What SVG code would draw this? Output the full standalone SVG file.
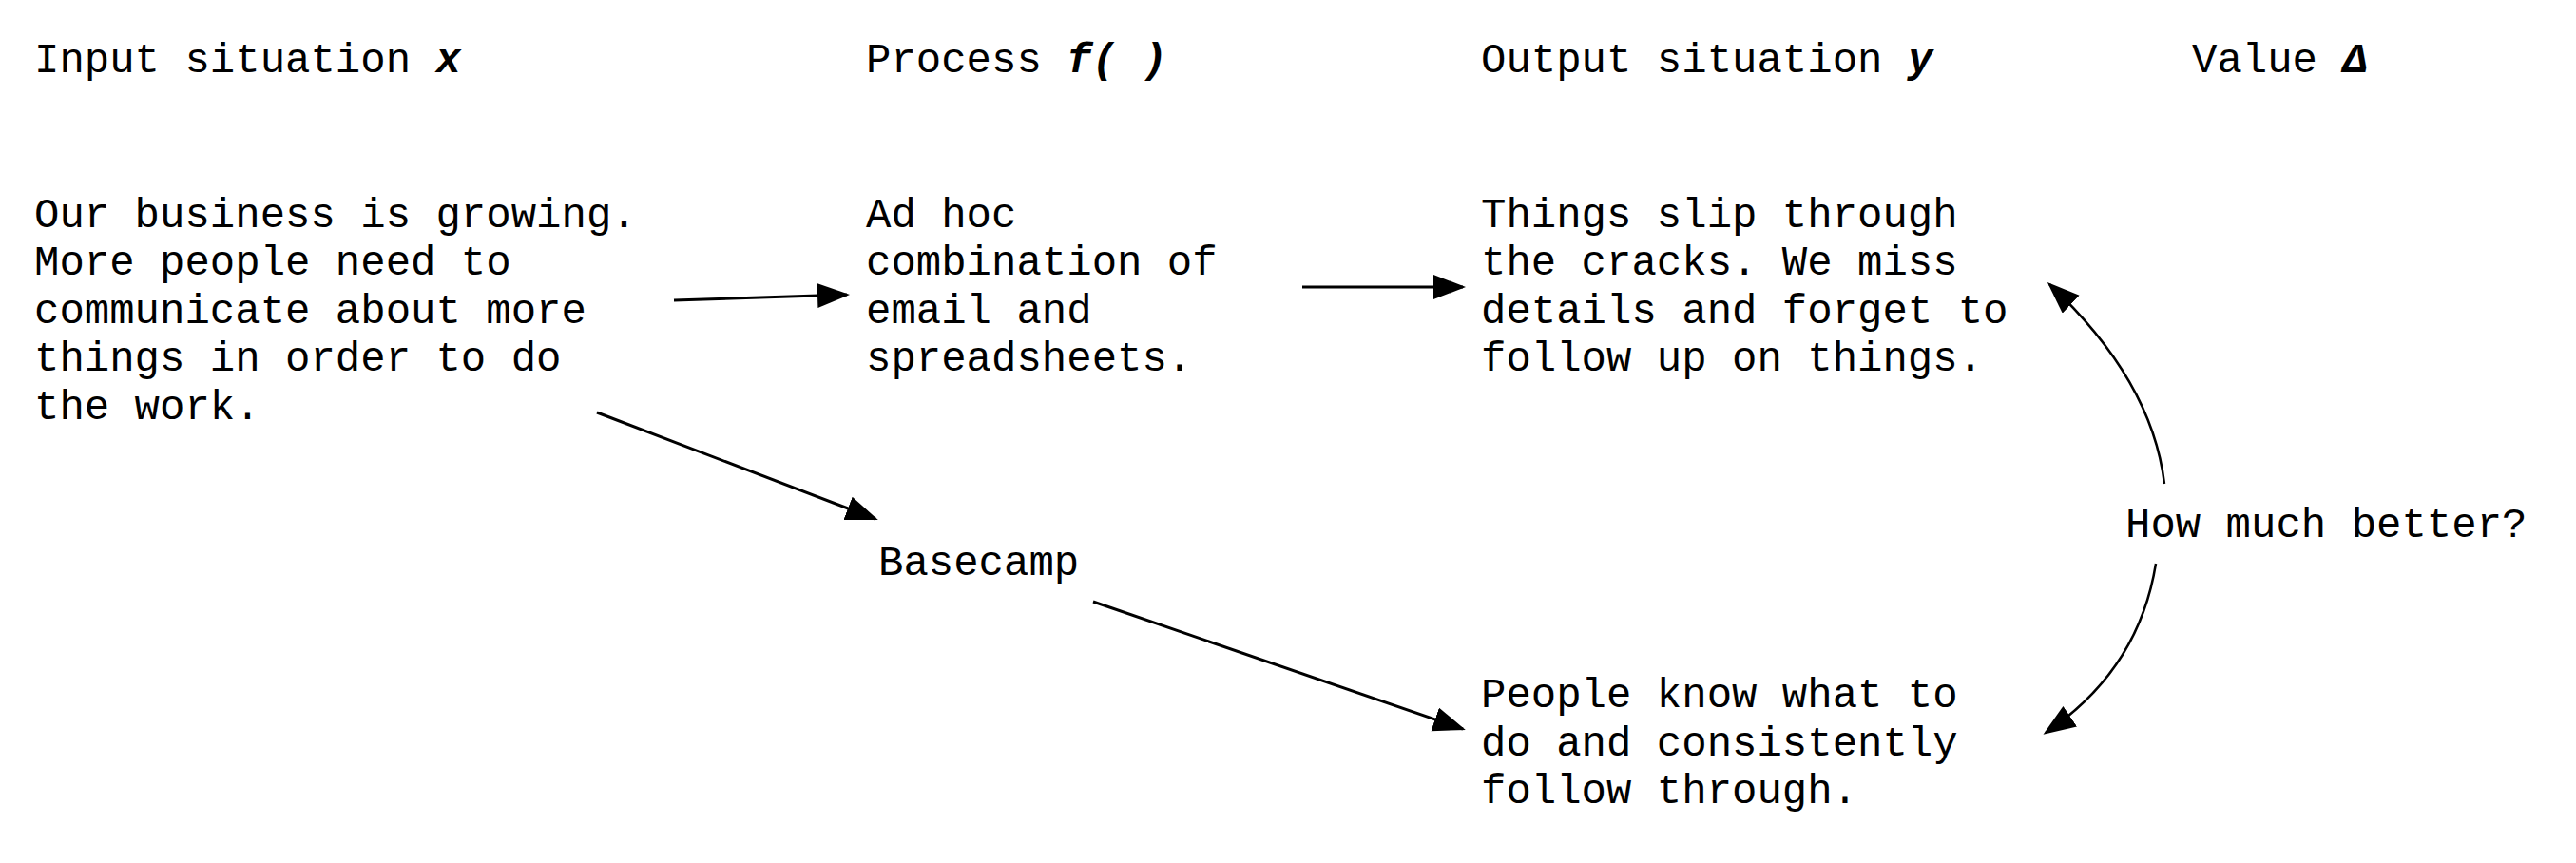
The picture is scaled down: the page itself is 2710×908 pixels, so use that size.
<svg xmlns="http://www.w3.org/2000/svg" width="2710" height="908" viewBox="0 0 2710 908">
<style>
text { font-family: "Liberation Mono", "Courier New", monospace; font-size: 44px; fill: #000; }
.em { font-weight: bold; font-style: italic; }
.conn { fill: none; stroke: #000; stroke-width: 3; }
.curve { fill: none; stroke: #000; stroke-width: 2.5; }
</style>
<defs>
<marker id="ah" markerUnits="userSpaceOnUse" markerWidth="36" markerHeight="28" refX="31" refY="13" orient="auto">
<path d="M0,0 L34,13 L0,26 Z" fill="#000"/>
</marker>
</defs>
<rect width="2710" height="908" fill="#fff"/>
<g id="headers">
<text x="36" y="76">Input situation <tspan class="em">x</tspan></text>
<text x="911" y="76">Process <tspan class="em">f( )</tspan></text>
<text x="1558" y="76">Output situation <tspan class="em">y</tspan></text>
<text x="2306" y="76">Value <tspan class="em">Δ</tspan></text>
</g>
<g id="node-input">
<text x="36" y="239">Our business is growing.</text>
<text x="36" y="289">More people need to</text>
<text x="36" y="340">communicate about more</text>
<text x="36" y="390">things in order to do</text>
<text x="36" y="441">the work.</text>
</g>
<g id="node-process">
<text x="911" y="239">Ad hoc</text>
<text x="911" y="289">combination of</text>
<text x="911" y="340">email and</text>
<text x="911" y="390">spreadsheets.</text>
</g>
<g id="node-output">
<text x="1558" y="239">Things slip through</text>
<text x="1558" y="289">the cracks. We miss</text>
<text x="1558" y="340">details and forget to</text>
<text x="1558" y="390">follow up on things.</text>
</g>
<g id="node-basecamp">
<text x="924" y="605">Basecamp</text>
</g>
<g id="node-better">
<text x="2236" y="565">How much better?</text>
</g>
<g id="node-result">
<text x="1558" y="744">People know what to</text>
<text x="1558" y="795">do and consistently</text>
<text x="1558" y="845">follow through.</text>
</g>
<g id="connectors">
<line class="conn" x1="709" y1="316" x2="891" y2="310" marker-end="url(#ah)"/>
<line class="conn" x1="1370" y1="302" x2="1539" y2="302" marker-end="url(#ah)"/>
<line class="conn" x1="628" y1="434" x2="921" y2="546" marker-end="url(#ah)"/>
<line class="conn" x1="1150" y1="633" x2="1539" y2="767" marker-end="url(#ah)"/>
<path class="curve" d="M2277,509 Q2264,400 2156,299" marker-end="url(#ah)"/>
<path class="curve" d="M2268,593 Q2250,705 2152,771" marker-end="url(#ah)"/>
</g>
</svg>
